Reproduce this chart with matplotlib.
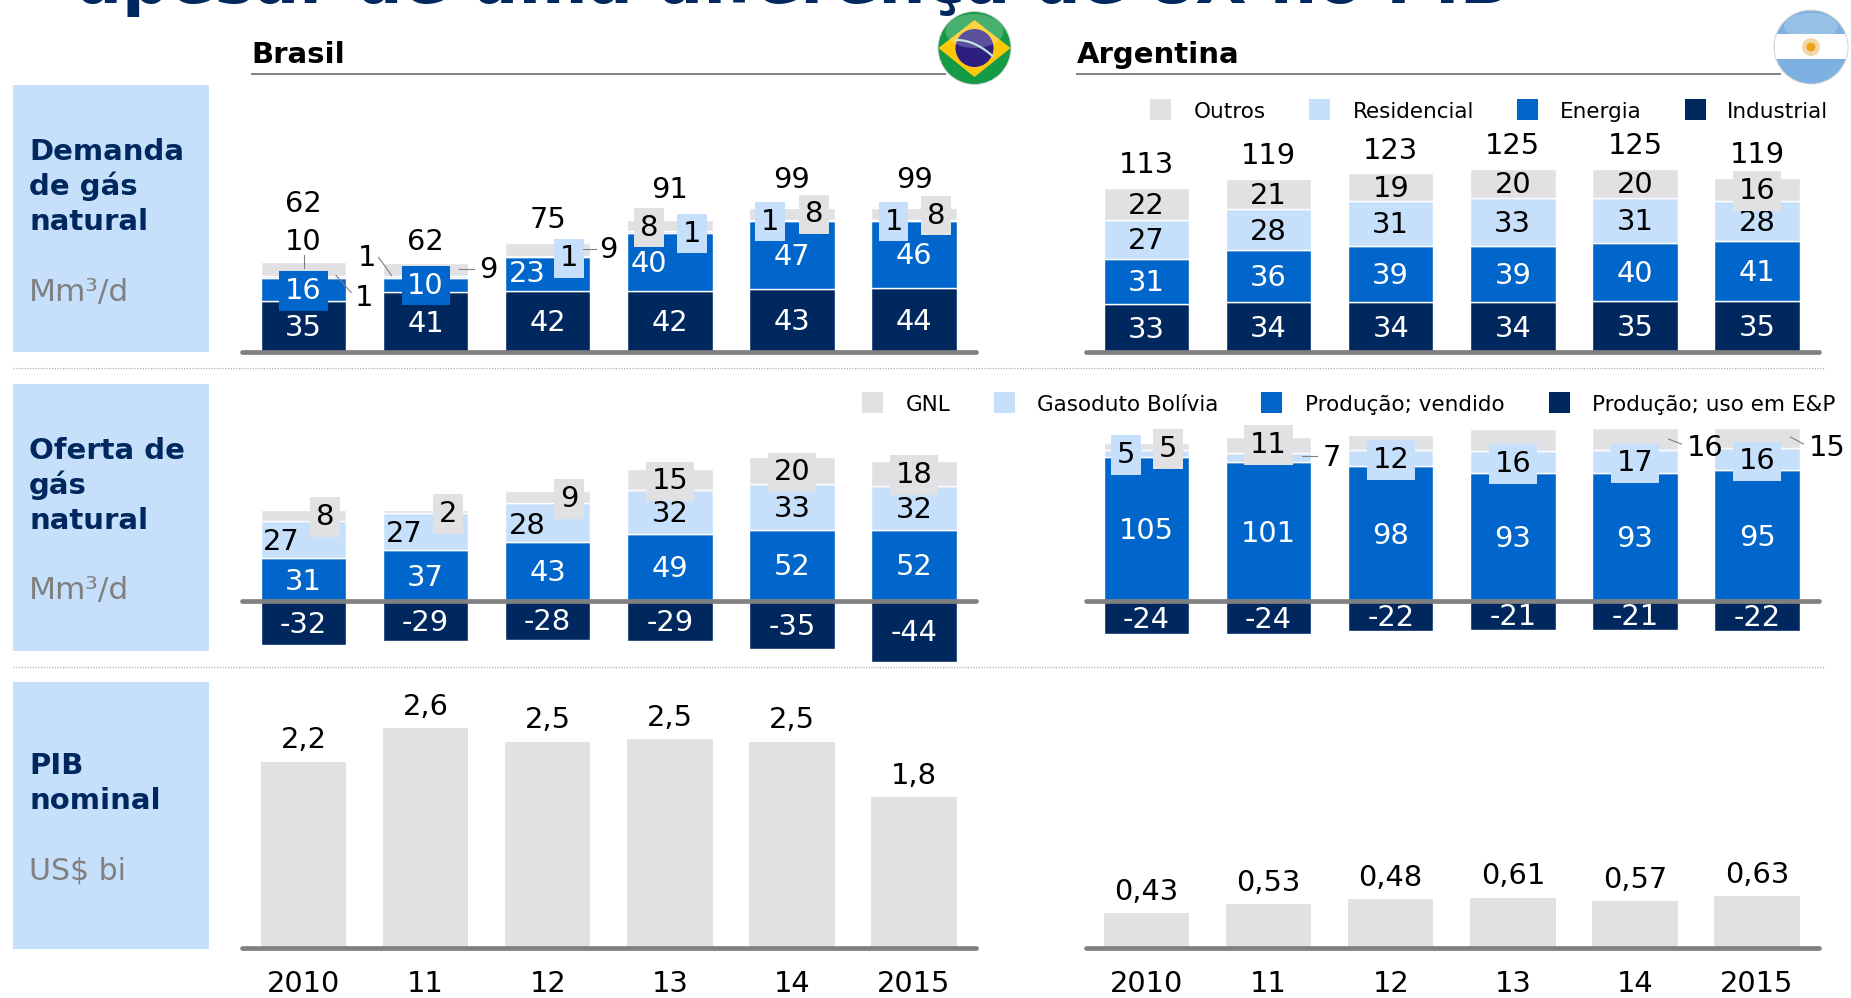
import matplotlib
matplotlib.use("Agg")
import numpy as np
import matplotlib.pyplot as plt
from matplotlib.patches import Circle, Ellipse, Polygon, Rectangle

# Daten
anos = ["2010", "11", "12", "13", "14", "2015"]

dem_br_industrial = [35, 41, 42, 42, 43, 44]
dem_br_energia = [16, 10, 23, 40, 47, 46]
dem_br_residencial = [1, 1, 1, 1, 1, 1]
dem_br_outros = [10, 9, 9, 8, 8, 8]
dem_br_total = [62, 62, 75, 91, 99, 99]

dem_ar_industrial = [33, 34, 34, 34, 35, 35]
dem_ar_energia = [31, 36, 39, 39, 40, 41]
dem_ar_residencial = [27, 28, 31, 33, 31, 28]
dem_ar_outros = [22, 21, 19, 20, 20, 16]
dem_ar_total = [113, 119, 123, 125, 125, 119]

of_br_uso = [-32, -29, -28, -29, -35, -44]
of_br_vendido = [31, 37, 43, 49, 52, 52]
of_br_bolivia = [27, 27, 28, 32, 33, 32]
of_br_gnl = [8, 2, 9, 15, 20, 18]

of_ar_uso = [-24, -24, -22, -21, -21, -22]
of_ar_vendido = [105, 101, 98, 93, 93, 95]
of_ar_bolivia = [5, 7, 12, 16, 17, 16]
of_ar_gnl = [5, 11, 11, 16, 16, 15]  # 2012 und 2013 ohne Label im Original, geschätzt

# Balkenhöhen, Labels wie gedruckt (passen im Original nicht ganz zusammen)
pib_br = [2.24, 2.64, 2.48, 2.51, 2.48, 1.81]
pib_br_labels = ["2,2", "2,6", "2,5", "2,5", "2,5", "1,8"]
pib_ar = [0.41, 0.52, 0.58, 0.60, 0.56, 0.62]
pib_ar_labels = ["0,43", "0,53", "0,48", "0,61", "0,57", "0,63"]

legenda_demanda = ["Outros", "Residencial", "Energia", "Industrial"]
legenda_oferta = ["GNL", "Gasoduto Bolívia", "Produção; vendido", "Produção; uso em E&P"]

# Farben
AZUL_ESC = "#00285F"
AZUL = "#0066CC"
AZUL_CL = "#C6E0FB"
CINZA = "#E1E1E3"
LINHA = "#808080"
FS = 20.8
LIFT = 1  # Labels 1 px höher

W, H = 1851, 998
STEP = 122.1
BW = 0.70
BR = dict(left=242, right=976, x0=303.5)
AR = dict(left=1086, right=1819, x0=1146.5)

fig = plt.figure(figsize=(W / 100, H / 100), dpi=100)

# Hintergrund-Achse in Pixeln für alles was kein Diagramm ist
bg = fig.add_axes([0, 0, 1, 1], zorder=0)
bg.set_xlim(0, W)
bg.set_ylim(H, 0)
bg.set_axis_off()


def make_axes(col, top, bottom, zero, scale):
    ax = fig.add_axes([col["left"] / W, 1 - bottom / H, (col["right"] - col["left"]) / W, (bottom - top) / H],
                      zorder=2)
    ax.patch.set_alpha(0)
    ax.set_xlim((col["left"] - col["x0"]) / STEP, (col["right"] - col["x0"]) / STEP)
    ax.set_ylim((zero - bottom) / scale, (zero - top) / scale)
    ax.set_axis_off()
    return ax


def baseline(ax):
    ax.axhline(0, color=LINHA, lw=3.4, solid_capstyle="round", zorder=4, clip_on=False)


def stacked(ax, scale, neg, series, colors, txt_colors, over):
    x = np.arange(len(anos))
    bottom = np.zeros(len(anos))
    for s, (vals, c, tc) in enumerate(zip(series, colors, txt_colors)):
        vals = np.array(vals, dtype=float)
        ax.bar(x, vals, BW, bottom=bottom, color=c, edgecolor="white", linewidth=1.0, zorder=2)
        for i, v in enumerate(vals):
            o = over.get((s, i), {})
            if o.get("hide"):
                continue
            up = o.get("up")
            py = bottom[i] + v / 2 + LIFT / scale if up is None else (up + LIFT) / scale
            bbox = None
            if "box" in o:
                bbox = dict(boxstyle="square,pad=0.2", fc=o["box"], ec="none")
            ax.text(i + o.get("dx", 0) / STEP, py, f"{int(v)}", color=o.get("color", tc), fontsize=FS,
                    ha="center", va="center_baseline", bbox=bbox, zorder=6)
            if "leader" in o:
                (a, b), (c2, d) = o["leader"]
                ax.plot([i + a / STEP, i + c2 / STEP], [b / scale, d / scale],
                        color=LINHA, lw=0.8, zorder=7)
        bottom += vals
    if neg is not None:
        ax.bar(x, neg, BW, color=AZUL_ESC, edgecolor="white", linewidth=1.0, zorder=2)
        for i, v in enumerate(neg):
            ax.text(i, v / 2 + LIFT / scale, f"{v}", color="white", fontsize=FS, ha="center",
                    va="center_baseline", zorder=6)
    baseline(ax)


# Demanda
SC_DEM = 1.45
ZERO_DEM = 351.5
COLORS = [AZUL_ESC, AZUL, AZUL_CL, CINZA]
TXT = ["white", "white", "black", "black"]

over_dem_br = {
    (3, 0): dict(up=112, leader=((0, 97), (0, 84))),
    (2, 0): dict(dx=60, up=56, leader=((32.5, 76), (47.5, 59))),
    (1, 0): dict(box=AZUL),
    (2, 1): dict(dx=-59, up=95, leader=((-47, 94), (-34, 76))),
    (3, 1): dict(dx=63, up=83, leader=((33, 83), (48, 83))),
    (1, 1): dict(box=AZUL, up=68),
    (1, 2): dict(dx=-20, up=79),
    (2, 2): dict(box=AZUL_CL, dx=21.5, up=95),
    (3, 2): dict(dx=61, up=103, leader=((35, 103), (48, 103))),
    (3, 3): dict(box=CINZA, dx=-20.5, up=126),
    (2, 3): dict(box=AZUL_CL, dx=22.5, up=120),
    (1, 3): dict(dx=-20.5, up=89),
    (2, 4): dict(box=AZUL_CL, dx=-22, up=132),
    (3, 4): dict(box=CINZA, dx=22, up=139),
    (2, 5): dict(box=AZUL_CL, dx=-20.5, up=132),
    (3, 5): dict(box=CINZA, dx=22, up=138),
}
total_up_br = [149, 111, 133, 163, 174, 173]

ax = make_axes(BR, 90, 362, ZERO_DEM, SC_DEM)
stacked(ax, SC_DEM, None, [dem_br_industrial, dem_br_energia, dem_br_residencial, dem_br_outros],
        COLORS, TXT, over_dem_br)
for i, t in enumerate(dem_br_total):
    ax.text(i, (total_up_br[i] + LIFT) / SC_DEM, str(t), fontsize=FS, ha="center", va="center_baseline", zorder=6)

ax = make_axes(AR, 90, 362, ZERO_DEM, SC_DEM)
stacked(ax, SC_DEM, None, [dem_ar_industrial, dem_ar_energia, dem_ar_residencial, dem_ar_outros],
        COLORS, TXT, {(3, 5): dict(box=CINZA)})
topo = np.sum([dem_ar_industrial, dem_ar_energia, dem_ar_residencial, dem_ar_outros], axis=0)
for i, t in enumerate(dem_ar_total):
    ax.text(i, topo[i] + 25.5 / SC_DEM, str(t), fontsize=FS, ha="center", va="center_baseline", zorder=6)

# Oferta
SC_OF = 1.375
ZERO_OF = 601
over_of_br = {
    (3, 0): dict(box=CINZA, dx=21.5, up=86),
    (2, 0): dict(dx=-22.5, up=61),
    (3, 1): dict(box=CINZA, dx=22, up=89),
    (2, 1): dict(dx=-21, up=69),
    (3, 2): dict(box=CINZA, dx=21.5, up=104),
    (2, 2): dict(dx=-20, up=77),
    (3, 3): dict(box=CINZA),
    (3, 4): dict(box=CINZA),
    (3, 5): dict(box=CINZA),
}
ax = make_axes(BR, 420, 670, ZERO_OF, SC_OF)
stacked(ax, SC_OF, of_br_uso, [of_br_vendido, of_br_bolivia, of_br_gnl], COLORS[1:], TXT[1:],
        {(k[0] - 1, k[1]): v for k, v in over_of_br.items()})

over_of_ar = {
    (2, 0): dict(box=AZUL_CL, dx=-20.5, up=148),
    (3, 0): dict(box=CINZA, dx=21.5, up=154),
    (3, 1): dict(box=CINZA, up=158),
    (2, 1): dict(dx=63, up=145, leader=((33, 145), (48, 145))),
    (2, 2): dict(box=AZUL_CL),
    (3, 2): dict(hide=True),
    (2, 3): dict(box=AZUL_CL),
    (3, 3): dict(hide=True),
    (2, 4): dict(box=AZUL_CL),
    (3, 4): dict(dx=70.5, up=155, leader=((33.5, 162), (46.5, 157))),
    (2, 5): dict(box=AZUL_CL),
    (3, 5): dict(dx=70.5, up=155, leader=((33.5, 164), (46.5, 157))),
}
ax = make_axes(AR, 420, 670, ZERO_OF, SC_OF)
stacked(ax, SC_OF, of_ar_uso, [of_ar_vendido, of_ar_bolivia, of_ar_gnl], COLORS[1:], TXT[1:],
        {(k[0] - 1, k[1]): v for k, v in over_of_ar.items()})

# PIB
SC_PIB = 83
ZERO_PIB = 947.5
for col, vals, labels in [(BR, pib_br, pib_br_labels), (AR, pib_ar, pib_ar_labels)]:
    ax = make_axes(col, 690, ZERO_PIB, ZERO_PIB, SC_PIB)
    ax.set_axis_on()
    for sp in ax.spines.values():
        sp.set_visible(False)
    ax.set_yticks([])
    ax.set_xticks(np.arange(len(anos)), anos)
    ax.tick_params(axis="x", length=0, pad=16.3, labelsize=FS)
    ax.bar(np.arange(len(vals)), vals, BW, color=CINZA, edgecolor="none", zorder=2)
    for i, v in enumerate(vals):
        ax.text(i, v + 13.5 / SC_PIB, labels[i], fontsize=FS, ha="center", va="baseline")
    baseline(ax)

# Titel (oben abgeschnitten wie im Original)
bg.text(77, 3, "apesar de uma diferença de 8X no PIB", fontsize=47.9, fontweight="bold", color=AZUL_ESC,
        ha="left", va="baseline", clip_on=False)

# Kopfzeilen
bg.text(251, 63, "Brasil", fontsize=21, fontweight="bold", va="baseline")
bg.text(1077, 63, "Argentina", fontsize=21, fontweight="bold", va="baseline")
bg.plot([252, 945], [74, 74], color=LINHA, lw=1.4)
bg.plot([1077, 1780], [74, 74], color=LINHA, lw=1.4)

# Blaue Kästen links
for top in [85, 384, 682]:
    bg.add_patch(Rectangle((13, top), 196, 267, fc=AZUL_CL, ec="none"))
secoes = [(["Demanda", "de gás", "natural"], [160, 195, 230], "Mm³/d", 22.5, 301),
          (["Oferta de", "gás", "natural"], [459, 494, 529], "Mm³/d", 22.5, 599),
          (["PIB", "nominal"], [774, 809], "US$ bi", 21.5, 879)]
for linhas, ys, unidade, fs_u, yu in secoes:
    for t, y in zip(linhas, ys):
        bg.text(29, y, t, fontsize=21, fontweight="bold", color=AZUL_ESC, va="baseline")
    bg.text(29, yu, unidade, fontsize=fs_u, color=LINHA, va="baseline")

# gepunktete Trennlinien
for y in [368, 667]:
    bg.plot([13, 1825], [y, y], color="#B0B0B0", lw=0.9, ls=(0, (1, 1.2)))

# Legenden
leg_cores = [CINZA, AZUL_CL, AZUL, AZUL_ESC]
for nome, cor, xq, xt in zip(legenda_demanda, leg_cores, [1150, 1309, 1517, 1685], [1194, 1353, 1560, 1727]):
    bg.add_patch(Rectangle((xq, 99), 21, 21, fc=cor, ec="none"))
    bg.text(xt, 118, nome, fontsize=15.5, va="baseline")
for nome, cor, xq, xt in zip(legenda_oferta, leg_cores, [862, 994, 1261, 1549], [906, 1037, 1305, 1592]):
    bg.add_patch(Rectangle((xq, 392), 21, 21, fc=cor, ec="none"))
    bg.text(xt, 411, nome, fontsize=15.5, va="baseline")

# Flaggen
fl = fig.add_axes([0, 0, 1, 1], zorder=3)
fl.set_xlim(0, W)
fl.set_ylim(H, 0)
fl.set_axis_off()
fl.patch.set_alpha(0)

# Brasilien
cx, cy, r = 974.5, 48, 36
fl.add_patch(Circle((cx, cy), r + 1, fc="#D5D5D5", ec="none"))
fl.add_patch(Circle((cx, cy), r, fc="#159A46", ec="none"))
fl.add_patch(Polygon([(cx - r, cy), (cx, cy - 28), (cx + r, cy), (cx, cy + 29)], closed=True, fc="#FFC70A", ec="none"))
fl.add_patch(Circle((cx, cy), 19, fc="#2C1F80", ec="none"))
arc_x = np.linspace(cx - 18, cx + 18, 30)
fl.plot(arc_x, cy - 8 + (arc_x - cx + 18) ** 2 / 1296 * 16, color="#BFE6DC", lw=1.6)
fl.add_patch(Ellipse((cx, cy - 17), 58, 34, fc="white", alpha=0.22, ec="none"))

# Argentinien
cx, cy, r = 1811, 47, 36.5
clip = Circle((cx, cy), r, transform=fl.transData)
fl.add_patch(Circle((cx, cy), r + 1, fc="#D5D5D5", ec="none"))
for y0, h, c in [(cy - r, 24, "#7DB1E1"), (34, 25, "white"), (59, 30, "#7DB1E1")]:
    b = Rectangle((cx - r, y0), 2 * r, h, fc=c, ec="none")
    fl.add_patch(b)
    b.set_clip_path(clip)
fl.add_patch(Circle((cx, cy), 9, fc="#F3D7A6", ec="none"))
fl.add_patch(Circle((cx, cy), 4.5, fc="#EFA21E", ec="none"))
fl.add_patch(Ellipse((cx, cy - 21), 54, 26, fc="white", alpha=0.2, ec="none"))

fig.savefig("out.png", dpi=100)
